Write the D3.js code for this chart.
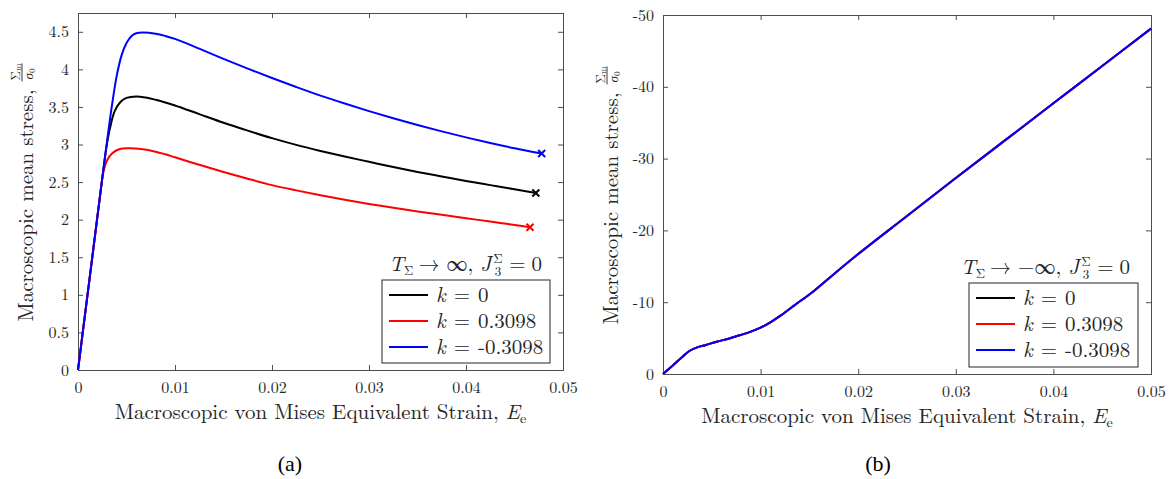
<!DOCTYPE html>
<html>
<head>
<meta charset="utf-8">
<script src="https://cdn.jsdelivr.net/npm/d3@7"></script>
<style>
  html, body { margin: 0; padding: 0; background: #fff; }
  svg { display: block; }
  text { fill: #262626; }
</style>
</head>
<body>
<svg id="fig" width="1175" height="479"></svg>
<script>
// ---- data: macroscopic von Mises strain E_e vs. mean stress Σm/σ0 ----
// Panel (a): T_Σ → ∞
const strainA0   = [0, 0.0005, 0.001, 0.0015, 0.002, 0.0025, 0.0028, 0.003, 0.0033, 0.0038, 0.0044, 0.005, 0.006, 0.007, 0.008, 0.009, 0.01, 0.0125, 0.015, 0.0175, 0.02, 0.0225, 0.025, 0.0275, 0.03, 0.0325, 0.035, 0.0375, 0.04, 0.0425, 0.045, 0.0472];
const stressA0   = [0, 0.51, 1.02, 1.53, 2.04, 2.55, 2.85, 3.02, 3.22, 3.45, 3.57, 3.62, 3.64, 3.625, 3.595, 3.56, 3.52, 3.405, 3.29, 3.185, 3.085, 2.995, 2.915, 2.84, 2.77, 2.70, 2.635, 2.575, 2.515, 2.46, 2.405, 2.355];

const strainApos = [0, 0.0005, 0.001, 0.0015, 0.002, 0.0023, 0.0026, 0.003, 0.0035, 0.0043, 0.0054, 0.0065, 0.008, 0.009, 0.01, 0.0125, 0.015, 0.0175, 0.02, 0.0225, 0.025, 0.0275, 0.03, 0.0325, 0.035, 0.0375, 0.04, 0.0425, 0.045, 0.0466];
const stressApos = [0, 0.51, 1.02, 1.53, 2.04, 2.35, 2.62, 2.79, 2.88, 2.94, 2.95, 2.94, 2.905, 2.87, 2.83, 2.73, 2.635, 2.545, 2.46, 2.39, 2.325, 2.265, 2.21, 2.16, 2.11, 2.065, 2.02, 1.975, 1.93, 1.90];

const strainAneg = [0, 0.0005, 0.001, 0.0015, 0.002, 0.0025, 0.003, 0.0035, 0.004, 0.0045, 0.005, 0.0055, 0.006, 0.0067, 0.008, 0.009, 0.01, 0.011, 0.0125, 0.015, 0.0175, 0.02, 0.0225, 0.025, 0.0275, 0.03, 0.0325, 0.035, 0.0375, 0.04, 0.0425, 0.045, 0.0478];
const stressAneg = [0, 0.51, 1.02, 1.53, 2.04, 2.55, 3.05, 3.52, 3.92, 4.19, 4.35, 4.44, 4.48, 4.49, 4.475, 4.445, 4.405, 4.355, 4.275, 4.14, 4.01, 3.885, 3.765, 3.65, 3.545, 3.445, 3.35, 3.26, 3.175, 3.095, 3.02, 2.95, 2.88];

// Panel (b): T_Σ → −∞ (the three k values give the same response)
const strainB = [0, 0.001, 0.002, 0.0027, 0.0035, 0.0044, 0.0055, 0.0068, 0.008, 0.009, 0.01, 0.011, 0.012, 0.0135, 0.0154, 0.0175, 0.02, 0.025, 0.03, 0.035, 0.04, 0.045, 0.05];
const stressB = [0, -1.2, -2.4, -3.2, -3.7, -4.05, -4.5, -4.95, -5.45, -5.9, -6.45, -7.2, -8.1, -9.6, -11.5, -13.9, -16.7, -22.0, -27.3, -32.5, -37.7, -42.9, -48.1];

const kLabels = ["0", "0.3098", "-0.3098"];
const kColors = ["#000000", "#ff0000", "#0000ff"];

const xTicks   = [0, 0.01, 0.02, 0.03, 0.04, 0.05];
const yTicksA  = [0, 0.5, 1, 1.5, 2, 2.5, 3, 3.5, 4, 4.5];
const yTicksB  = [0, -10, -20, -30, -40, -50];

const zip = (xs, ys) => xs.map((x, i) => [x, ys[i]]);

// LaTeX-like face for the plot text, Times-like face for the captions
const FONT = "'Latin Modern Roman', 'Liberation Serif', serif";
const CAPFONT = "'Liberation Serif', serif";
const svg = d3.select("#fig").style("font-family", FONT);
const axisColor = "#4d4d4d";

function drawPanel(cfg) {
  const { left, right, top, bottom, yDomain, yTicks, series, endMarks, legendTitle, caption, captionX } = cfg;
  const x = d3.scaleLinear().domain([0, 0.05]).range([left, right]);
  const y = d3.scaleLinear().domain(yDomain).range([bottom, top]);
  const g = svg.append("g").style("font-family", FONT);

  const fmt = d => (d === 0 ? "0" : String(+d.toFixed(3)));

  // box with inward ticks on all sides
  const tickLen = 5;
  const axB = d3.axisBottom(x).tickValues(xTicks).tickSize(-tickLen).tickPadding(12).tickFormat(fmt);
  const axT = d3.axisTop(x).tickValues(xTicks).tickSize(-tickLen).tickFormat("");
  const axL = d3.axisLeft(y).tickValues(yTicks).tickSize(-tickLen).tickPadding(9).tickFormat(fmt);
  const axR = d3.axisRight(y).tickValues(yTicks).tickSize(-tickLen).tickFormat("");

  const style = sel => {
    sel.attr("font-family", null).attr("font-size", null);
    sel.select(".domain").attr("stroke", axisColor).attr("stroke-width", 1);
    sel.selectAll(".tick line").attr("stroke", axisColor).attr("stroke-width", 1);
    sel.selectAll(".tick text").attr("fill", "#262626")
      .style("font-family", FONT).style("font-size", "16px");
  };
  g.append("g").attr("transform", `translate(0,${bottom})`).call(axB).call(style);
  g.append("g").attr("transform", `translate(0,${top})`).call(axT).call(style);
  g.append("g").attr("transform", `translate(${left},0)`).call(axL).call(style);
  g.append("g").attr("transform", `translate(${right},0)`).call(axR).call(style);

  // curves
  const line = d3.line().x(d => x(d[0])).y(d => y(d[1])).curve(d3.curveCatmullRom.alpha(0.5));
  series.forEach(s => {
    g.append("path").datum(s.data).attr("d", line)
      .attr("fill", "none").attr("stroke", s.color).attr("stroke-width", 2)
      .attr("stroke-linejoin", "round");
  });

  // failure points
  endMarks.forEach(s => {
    const last = s.data[s.data.length - 1];
    const cx = x(last[0]), cy = y(last[1]), r = 3.5;
    g.append("path")
      .attr("d", `M${cx - r},${cy - r}L${cx + r},${cy + r}M${cx - r},${cy + r}L${cx + r},${cy - r}`)
      .attr("stroke", s.color).attr("stroke-width", 2).attr("fill", "none");
  });

  // x label
  const xl = g.append("text").attr("x", (left + right) / 2).attr("y", bottom + 49)
    .attr("text-anchor", "middle").style("font-size", "21px");
  xl.append("tspan").text("Macroscopic von Mises Equivalent Strain, ");
  xl.append("tspan").text("E").style("font-style", "italic");
  xl.append("tspan").text("e").style("font-size", "14px").attr("dy", 4);

  // y label (rotated) with fraction Σm / σ0
  const ymid = (top + bottom) / 2 + 14;
  const yl = g.append("g").attr("transform", `translate(${left - 45},${ymid}) rotate(-90)`);
  const main = yl.append("text").attr("x", 0).attr("y", 0).attr("text-anchor", "middle")
    .style("font-size", "21px").text("Macroscopic mean stress,");
  const w = main.node().getComputedTextLength();
  const fx = w / 2 + 8;
  yl.append("line").attr("x1", fx).attr("x2", fx + 18).attr("y1", -11).attr("y2", -11)
    .attr("stroke", "#262626").attr("stroke-width", 0.9);
  const num = yl.append("text").attr("x", fx + 1).attr("y", -13.5).style("font-size", "13px");
  num.append("tspan").text("Σ");
  num.append("tspan").text("m").style("font-size", "9px").attr("dy", 1.5);
  const den = yl.append("text").attr("x", fx + 2).attr("y", 0).style("font-size", "13px");
  den.append("tspan").text("σ").style("font-style", "italic");
  den.append("tspan").text("0").style("font-size", "9px").attr("dy", 2);

  // legend
  const lg = cfg.legend;
  g.append("rect").attr("x", lg.x).attr("y", lg.y).attr("width", lg.w).attr("height", lg.h)
    .attr("fill", "#fff").attr("stroke", "#262626").attr("stroke-width", 1);
  kLabels.forEach((k, i) => {
    const ry = lg.y + 15 + i * 26;
    g.append("line").attr("x1", lg.x + 7).attr("x2", lg.x + 46).attr("y1", ry).attr("y2", ry)
      .attr("stroke", kColors[i]).attr("stroke-width", 2);
    const t = g.append("text").attr("x", lg.x + 54).attr("y", ry + 7).style("font-size", "21px");
    t.append("tspan").text("k").style("font-style", "italic");
    t.append("tspan").text("=").attr("dx", 8);
    t.append("tspan").text(k).attr("dx", 8);
  });

  // legend title: T_Σ → ±∞, J_3^Σ = 0
  const tt = g.append("text").attr("x", lg.x + lg.w - 8).attr("y", lg.y - 9)
    .attr("text-anchor", "end").style("font-size", "21px");
  tt.append("tspan").text("T").style("font-style", "italic");
  tt.append("tspan").text("Σ").style("font-size", "13px").attr("dy", 4);
  tt.append("tspan").text(legendTitle).attr("dy", -4).attr("dx", 5);
  tt.append("tspan").text("J").style("font-style", "italic").attr("dx", 7);
  tt.append("tspan").text("Σ").style("font-size", "13px").attr("dy", -8).attr("dx", 2);
  tt.append("tspan").text("3").style("font-size", "13px").attr("dy", 13).attr("dx", -8);
  tt.append("tspan").text("=").attr("dy", -5).attr("dx", 8);
  tt.append("tspan").text("0").attr("dx", 6);

  // caption
  svg.append("text").attr("x", captionX).attr("y", 471).attr("text-anchor", "middle")
    .style("font-family", CAPFONT).style("font-size", "22px").style("fill", "#000").text(caption);
}

drawPanel({
  left: 78, right: 563, top: 13, bottom: 370,
  yDomain: [0, 4.75], yTicks: yTicksA,
  series: [
    { data: zip(strainA0, stressA0), color: kColors[0] },
    { data: zip(strainApos, stressApos), color: kColors[1] },
    { data: zip(strainAneg, stressAneg), color: kColors[2] }
  ],
  endMarks: [
    { data: zip(strainA0, stressA0), color: kColors[0] },
    { data: zip(strainApos, stressApos), color: kColors[1] },
    { data: zip(strainAneg, stressAneg), color: kColors[2] }
  ],
  legendTitle: "→ ∞,",
  legend: { x: 382, y: 280, w: 168, h: 83 },
  caption: "(a)", captionX: 290
});

drawPanel({
  left: 663, right: 1151, top: 15, bottom: 374,
  yDomain: [0, -50], yTicks: yTicksB,
  series: [
    { data: zip(strainB, stressB), color: kColors[0] },
    { data: zip(strainB, stressB), color: kColors[1] },
    { data: zip(strainB, stressB), color: kColors[2] }
  ],
  endMarks: [],
  legendTitle: "→ −∞,",
  legend: { x: 969, y: 283, w: 169, h: 84 },
  caption: "(b)", captionX: 878
});
</script>
</body>
</html>
